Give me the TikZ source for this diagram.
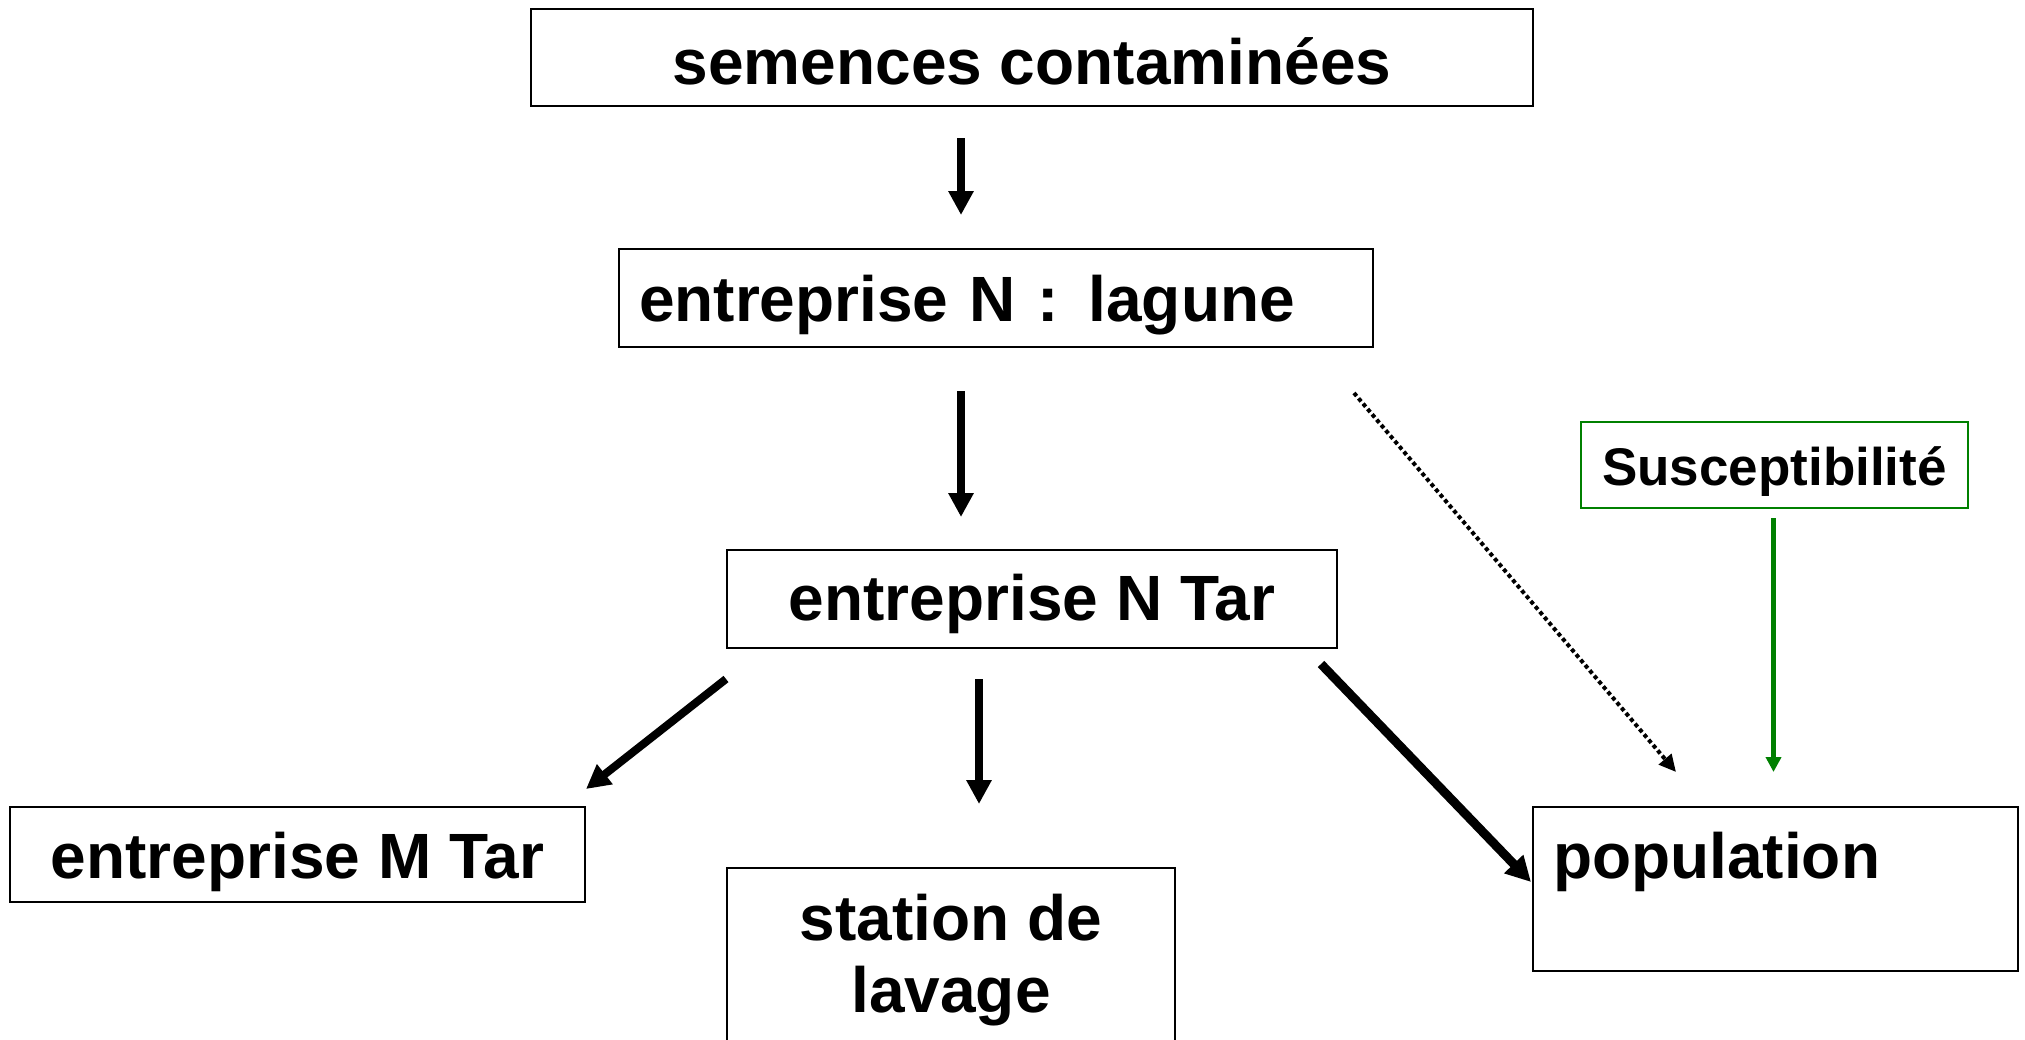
\documentclass[tikz,border=0pt]{standalone}
\usepackage{fontspec}
\setmainfont{Liberation Sans}
\usetikzlibrary{arrows.meta,calc}
\definecolor{suscgreen}{RGB}{0,128,0}
\tikzset{
  box/.style={draw=black, line width=2pt, inner sep=0pt,
    font=\fontsize{64pt}{72pt}\selectfont\bfseries},
  greenbox/.style={box, draw=suscgreen,
    font=\fontsize{53pt}{60pt}\selectfont\bfseries},
  flow/.style={line width=8pt, -{Triangle[length=24pt,width=24pt]}},
  bigflow/.style={line width=9pt, -{Triangle[length=25pt,width=25pt]}},
  dotflow/.style={line width=4pt, dash pattern=on 4pt off 3pt,
    -{Triangle[length=17pt,width=16pt]}},
  greenflow/.style={draw=suscgreen, line width=5pt,
    -{Triangle[length=15pt,width=15pt,fill=suscgreen]}},
}
\begin{document}
\begin{tikzpicture}[x=1pt,y=-1pt]
  \fill[white] (0,0) rectangle (2025,1039);
  \useasboundingbox (0,0) rectangle (2025,1039);

  % boxes
  \node[box, minimum width=1002pt, minimum height=97pt,
        text height=63pt, text depth=10pt] (sem) at (1032,57.5) {semences contaminées};
  \node[box, minimum width=754pt, minimum height=98pt, text width=714pt, align=left,
        text height=58pt, text depth=12pt] (lag) at (996,298) {entreprise N :\hspace{30pt}lagune};
  \node[box, minimum width=610pt, minimum height=98pt,
        text height=56pt, text depth=14pt] (ntar) at (1032,599) {entreprise N Tar};
  \node[box, minimum width=575pt, minimum height=95pt,
        text height=59pt, text depth=12pt] (mtar) at (297.5,854.5) {entreprise M Tar};
  \node[box, minimum width=448pt, minimum height=200pt, align=center,
        text height=100pt, text depth=12pt] (stat) at (951,968) {station de\\lavage};
  \node[box, minimum width=485pt, minimum height=164pt, text width=445pt, align=left,
        text height=30pt, text depth=52pt] (pop) at (1775.5,889) {population};
  \node[greenbox, minimum width=387pt, minimum height=86pt,
        text height=50pt, text depth=10pt] (sus) at (1774.5,465) {Susceptibilité};

  % connectors
  \draw[flow] ($(sem.south)+(-71,31)$) -- ($(sem.south |- lag.north)+(-71,-33)$);
  \draw[flow] ($(lag.south)+(-35,43)$) -- ($(ntar.north)+(-71,-32)$);
  \draw[flow] ($(ntar.south west)+(0,30)$) -- ($(mtar.north east)+(0,-17)$);
  \draw[flow] ($(ntar.south)+(-53,30)$) -- ($(stat.north)+(28,-63)$);
  \draw[bigflow] ($(ntar.south east)+(-17,15)$) -- ($(pop.north west)+(-1,76)$);
  \draw[dotflow] ($(lag.south east)+(-20,45)$) -- ($(pop.north west)+(144,-34)$);
  \draw[greenflow] ($(sus.south)+(-1,9)$) -- ($(sus.south |- pop.north)+(-1,-34)$);
\end{tikzpicture}
\end{document}
